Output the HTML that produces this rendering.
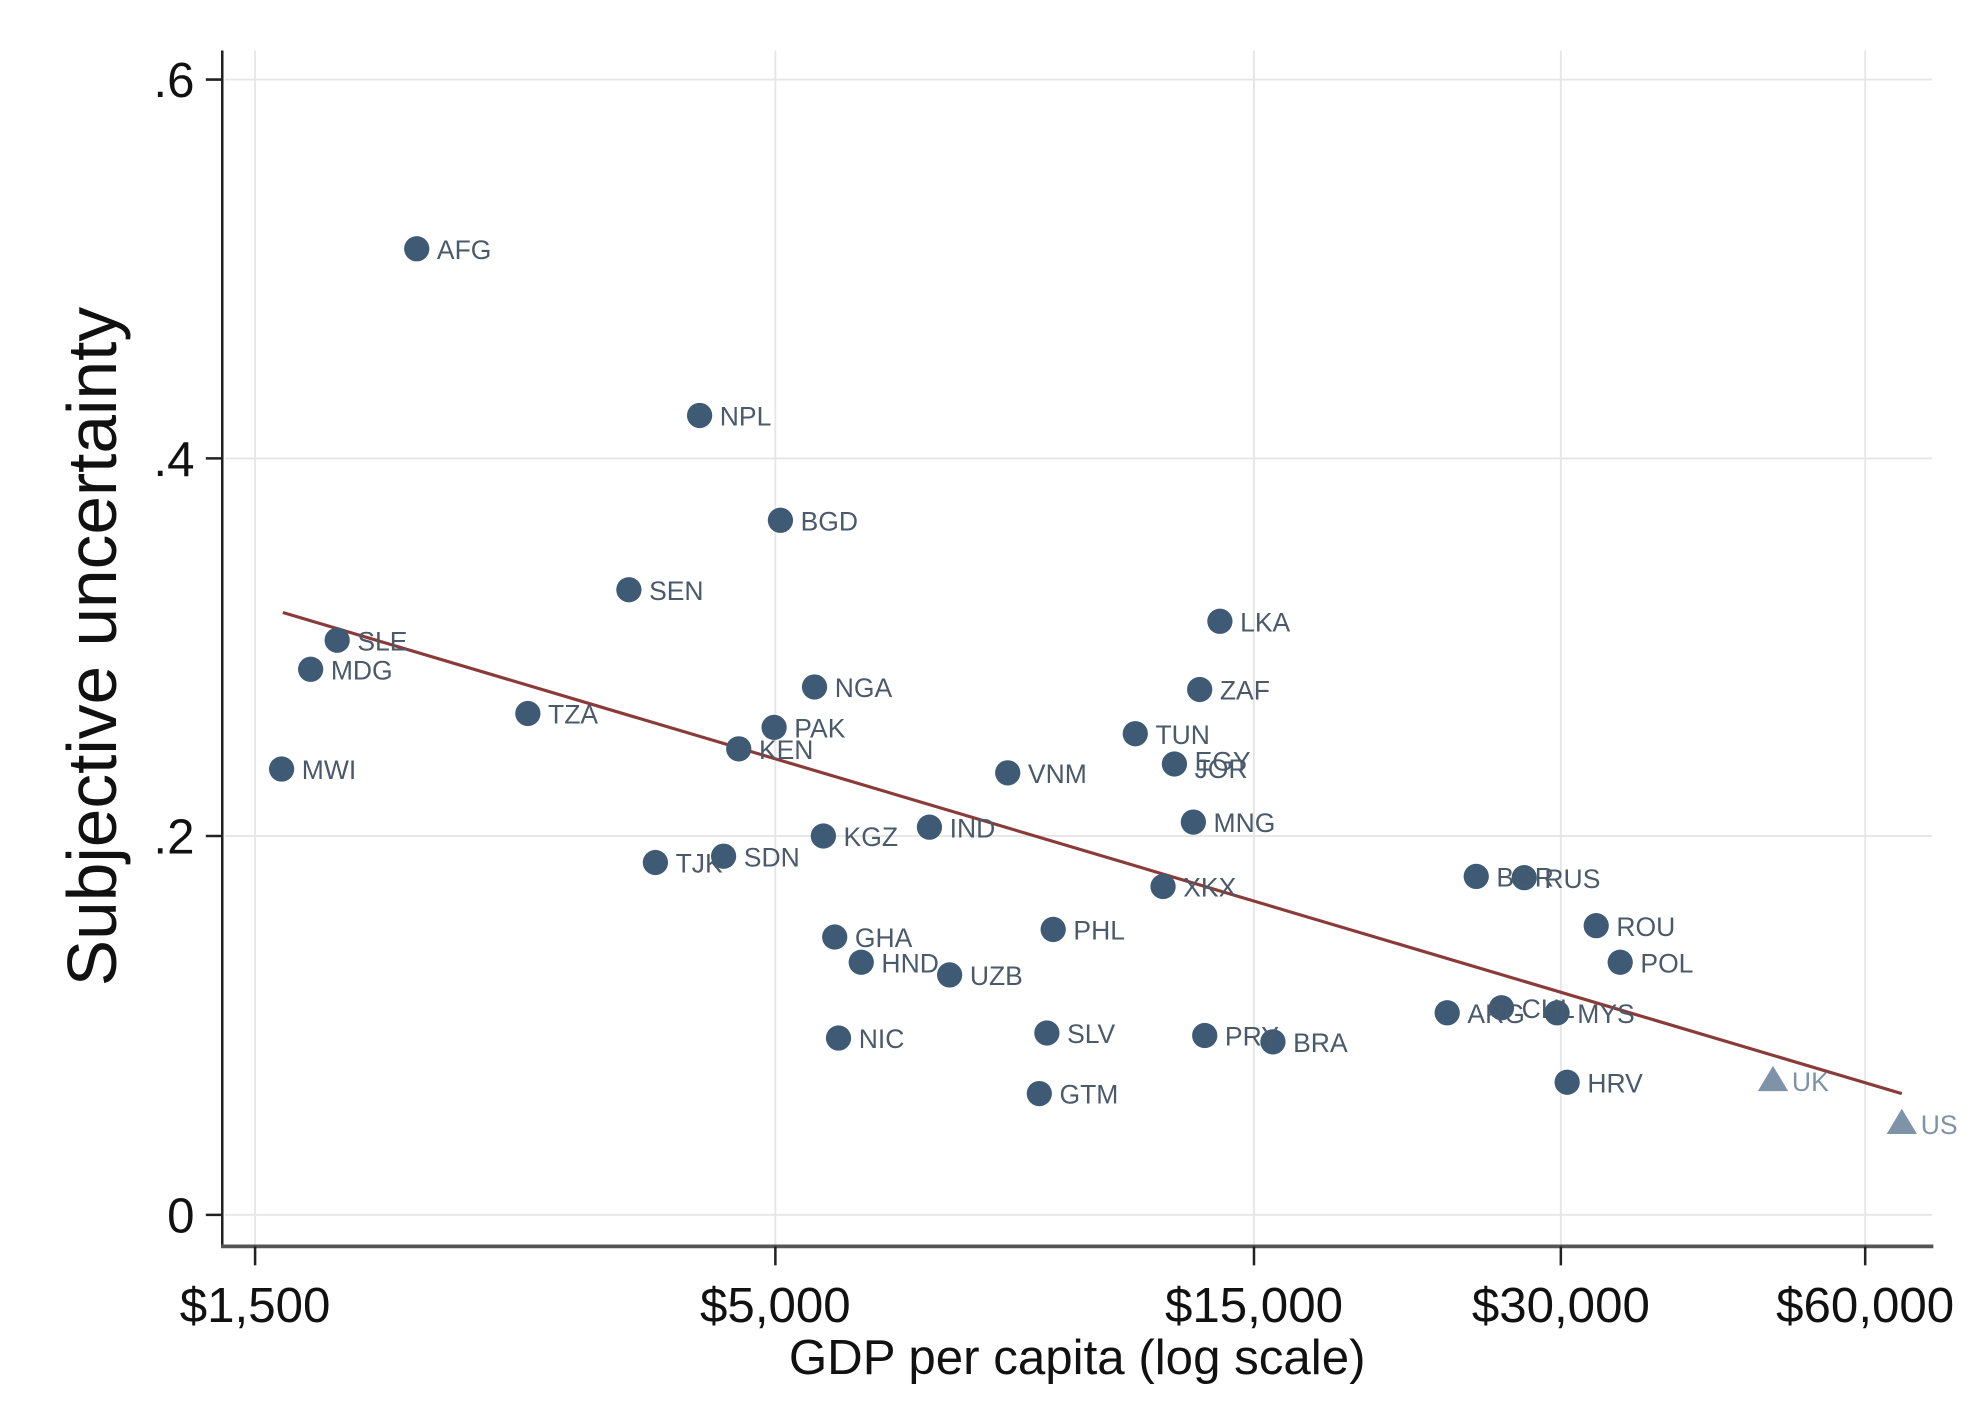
<!DOCTYPE html>
<html><head><meta charset="utf-8"><style>html,body{margin:0;padding:0;background:#fff}svg{display:block}</style></head>
<body>
<svg width="1970" height="1428" viewBox="0 0 1560 1130.8" xmlns="http://www.w3.org/2000/svg" font-family="Liberation Sans, Arial, sans-serif">
<rect width="1560" height="1131" fill="#fff"/>
<g stroke="#e6e6e6" stroke-width="1.5">
<line x1="178" y1="63" x2="1530" y2="63"/><line x1="178" y1="363" x2="1530" y2="363"/>
<line x1="178" y1="662" x2="1530" y2="662"/><line x1="178" y1="962" x2="1530" y2="962"/>
<line x1="202" y1="40" x2="202" y2="986"/><line x1="614" y1="40" x2="614" y2="986"/>
<line x1="993" y1="40" x2="993" y2="986"/><line x1="1236" y1="40" x2="1236" y2="986"/>
<line x1="1477" y1="40" x2="1477" y2="986"/>
</g>
<line x1="176" y1="40" x2="176" y2="988" stroke="#222" stroke-width="2"/>
<line x1="175" y1="987" x2="1531" y2="987" stroke="#555" stroke-width="3"/>
<g stroke="#222" stroke-width="2">
<line x1="163" y1="63" x2="176" y2="63"/><line x1="163" y1="363" x2="176" y2="363"/>
<line x1="163" y1="662" x2="176" y2="662"/><line x1="163" y1="962" x2="176" y2="962"/>
<line x1="202" y1="987" x2="202" y2="1002"/><line x1="614" y1="987" x2="614" y2="1002"/>
<line x1="993" y1="987" x2="993" y2="1002"/><line x1="1236" y1="987" x2="1236" y2="1002"/>
<line x1="1477" y1="987" x2="1477" y2="1002"/>
</g>
<g font-size="39" fill="#111" text-anchor="end">
<text x="154" y="77">.6</text><text x="154" y="377">.4</text><text x="154" y="676">.2</text><text x="154" y="976">0</text>
</g>
<g font-size="39" fill="#111" text-anchor="middle">
<text x="202" y="1047">$1,500</text><text x="614" y="1047">$5,000</text><text x="993" y="1047">$15,000</text>
<text x="1236" y="1047">$30,000</text><text x="1477" y="1047">$60,000</text>
<text x="853" y="1088">GDP per capita (log scale)</text>
</g>
<text transform="translate(92,512) rotate(-90)" font-size="55" fill="#111" text-anchor="middle">Subjective uncertainty</text>
<line x1="224" y1="485" x2="1506" y2="866" stroke="#8b3a3a" stroke-width="2.5"/>
<g fill="#3e5a74">
<circle cx="330" cy="197" r="10"/><circle cx="554" cy="329" r="10"/><circle cx="618" cy="412" r="10"/>
<circle cx="498" cy="467" r="10"/><circle cx="267" cy="507" r="10"/><circle cx="246" cy="530" r="10"/>
<circle cx="418" cy="565" r="10"/><circle cx="223" cy="609" r="10"/><circle cx="645" cy="544" r="10"/>
<circle cx="613" cy="576" r="10"/><circle cx="585" cy="593" r="10"/><circle cx="966" cy="492" r="10"/>
<circle cx="950" cy="546" r="10"/><circle cx="899" cy="581" r="10"/><circle cx="930" cy="605" r="10"/>
<circle cx="798" cy="612" r="10"/><circle cx="945" cy="651" r="10"/><circle cx="652" cy="662" r="10"/>
<circle cx="736" cy="655" r="10"/><circle cx="573" cy="678" r="10"/><circle cx="519" cy="683" r="10"/>
<circle cx="921" cy="702" r="10"/><circle cx="1169" cy="694" r="10"/><circle cx="1207" cy="695" r="10"/>
<circle cx="1264" cy="733" r="10"/><circle cx="1283" cy="762" r="10"/><circle cx="834" cy="736" r="10"/>
<circle cx="661" cy="742" r="10"/><circle cx="682" cy="762" r="10"/><circle cx="752" cy="772" r="10"/>
<circle cx="1146" cy="802" r="10"/><circle cx="1189" cy="798" r="10"/><circle cx="1233" cy="802" r="10"/>
<circle cx="664" cy="822" r="10"/><circle cx="829" cy="818" r="10"/><circle cx="954" cy="820" r="10"/>
<circle cx="1008" cy="825" r="10"/><circle cx="823" cy="866" r="10"/><circle cx="1241" cy="857" r="10"/>
</g>
<g fill="#7f93a8"><polygon points="1404,844 1392,864 1416,864"/><polygon points="1506,878 1494,898 1518,898"/></g>
<g font-size="21" fill="#4a5a6a">
<text x="346" y="205">AFG</text><text x="570" y="337">NPL</text><text x="634" y="420">BGD</text>
<text x="514" y="475">SEN</text><text x="283" y="515">SLE</text><text x="262" y="538">MDG</text>
<text x="434" y="573">TZA</text><text x="239" y="617">MWI</text><text x="661" y="552">NGA</text>
<text x="629" y="584">PAK</text><text x="601" y="601">KEN</text><text x="982" y="500">LKA</text>
<text x="966" y="554">ZAF</text><text x="915" y="589">TUN</text><text x="946" y="610">EGY</text><text x="946" y="616">JOR</text>
<text x="814" y="620">VNM</text><text x="961" y="659">MNG</text><text x="668" y="670">KGZ</text>
<text x="752" y="663">IND</text><text x="589" y="686">SDN</text><text x="535" y="691">TJK</text>
<text x="937" y="710">XKX</text><text x="1185" y="702">BGR</text><text x="1223" y="703">RUS</text>
<text x="1280" y="741">ROU</text><text x="1299" y="770">POL</text><text x="850" y="744">PHL</text>
<text x="677" y="750">GHA</text><text x="698" y="770">HND</text><text x="768" y="780">UZB</text>
<text x="1162" y="810">ARG</text><text x="1205" y="806">CHL</text><text x="1249" y="810">MYS</text>
<text x="680" y="830">NIC</text><text x="845" y="826">SLV</text><text x="970" y="828">PRY</text>
<text x="1024" y="833">BRA</text><text x="839" y="874">GTM</text><text x="1257" y="865">HRV</text>
<text x="1419" y="864" fill="#7f93a8">UK</text><text x="1521" y="898" fill="#7f93a8">US</text>
</g>
</svg>
</body></html>
